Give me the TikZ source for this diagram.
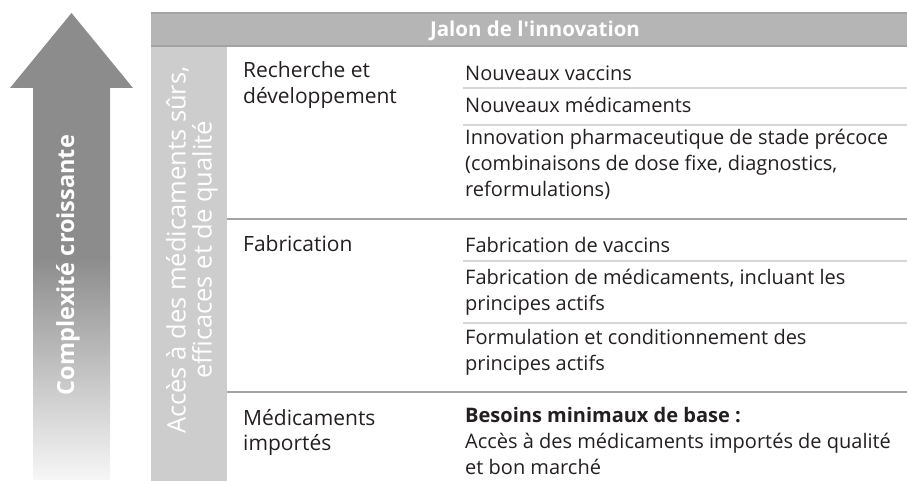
\documentclass[tikz,border=0pt]{standalone}
\usepackage{fontspec}
\setmainfont{Open Sans}
\usetikzlibrary{positioning}

\definecolor{arrowgray}{HTML}{8C8C8C}
\definecolor{headgray}{HTML}{B5B5B5}
\definecolor{colgray}{HTML}{CDCDCD}
\definecolor{rulegray}{HTML}{A3A3A3}
\definecolor{thingray}{HTML}{D6D6D6}
\definecolor{textdark}{HTML}{231F20}

\begin{document}
\begin{tikzpicture}[x=1pt, y=-1pt,
    every node/.style={inner sep=0pt, text=textdark},
    cat node/.style={anchor=north west, yshift=18.2pt, align=left,
                     execute at begin node=\strut, font=\fontsize{21}{25.5}\selectfont},
    item node/.style={anchor=north west, yshift=18.2pt, align=left,
                      execute at begin node=\strut, font=\fontsize{20}{26}\selectfont},
    white label/.style={text=white}]

  \useasboundingbox (0,0) rectangle (907,481);

  % arrow
  \fill[arrowgray] (71.5,13) -- (133,88) -- (110,88) -- (110,258)
                   -- (33,258) -- (33,88) -- (10,88) -- cycle;
  \shade[top color=arrowgray, bottom color=gray!7] (33,257) rectangle (110,479);
  \node[white label, rotate=90, font=\fontsize{23.5}{24}\selectfont\bfseries] (growth) at (68,265) {Complexité croissante};

  % header and left column
  \fill[headgray] (151,13) rectangle (907,46);
  \draw[rulegray, line width=2pt] (151,13) -- (907,13);
  \draw[rulegray, line width=2pt] (151,46) -- (907,46);
  \node[white label, anchor=base, font=\fontsize{20.5}{22}\selectfont\bfseries] (milestone) at (535,37) {Jalon de l{\addfontfeatures{Ligatures=TeXOff}'}innovation};
  \fill[colgray] (151,47) rectangle (227,481);
  \node[white label, rotate=90, align=center, font=\fontsize{25.5}{26}\selectfont] (access) at (192,250)
    {Accès à des médicaments sûrs,\\efficaces et de qualité};

  % rows
  \draw[rulegray, line width=2.5pt] (227,219) -- (907,219);
  \draw[rulegray, line width=2.5pt] (227,392) -- (907,392);
  \foreach \y in {88,125,261,323}
    \draw[thingray, line width=2.5pt] (463,\y) -- (907,\y);

  \node[cat node] (rd)  at (243,80)  {Recherche et\\développement};
  \node[cat node] (fab) at (243,252) {Fabrication};
  \node[cat node] (imp) at (243,427) {Médicaments\\importés};

  \node[item node] (vac)  at (465,80)  {Nouveaux vaccins};
  \node[item node] (med)  at (465,112) {Nouveaux médicaments};
  \node[item node] (inno) at (465,147) {Innovation pharmaceutique de stade précoce\\(combinaisons de dose fixe, diagnostics,\\reformulations)};
  \node[item node] (fvac) at (465,252) {Fabrication de vaccins};
  \node[item node] (fmed) at (465,287) {Fabrication de médicaments, incluant les\\principes actifs};
  \node[item node] (form) at (465,347) {Formulation et conditionnement des\\principes actifs};
  \node[item node] (base) at (465,425) {{\bfseries Besoins minimaux de base :}\\Accès à des médicaments importés de qualité\\et bon marché};

\end{tikzpicture}
\end{document}
